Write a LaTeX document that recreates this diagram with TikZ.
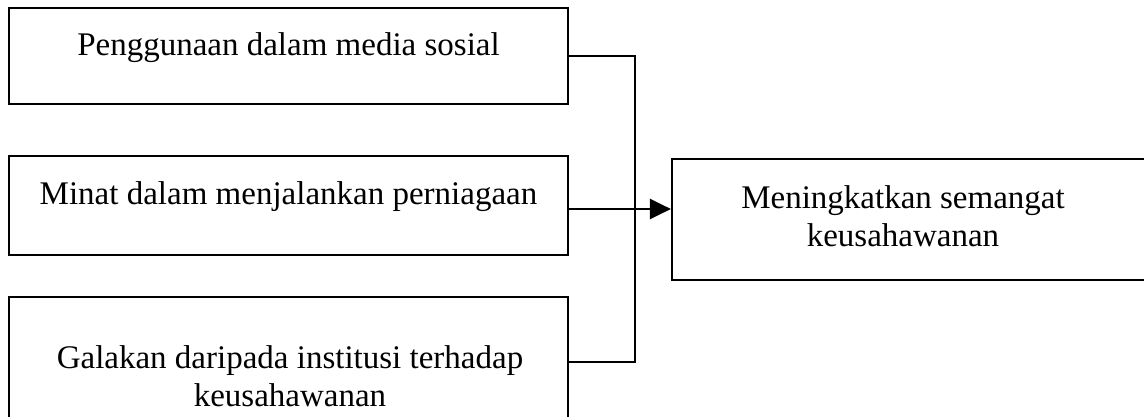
\documentclass[tikz,border=0pt]{standalone}
\usepackage{fontspec}
\setmainfont{Liberation Serif}
\usetikzlibrary{arrows.meta}
\begin{document}
\begin{tikzpicture}[x=1pt,y=-1pt,
  box/.style={draw=black,line width=2.2pt,rectangle,inner sep=0pt},
  txt/.style={font=\fontsize{33}{38}\selectfont,align=center,inner sep=0pt},
  conn/.style={draw=black,line width=2.4pt},
]
\useasboundingbox (0,0) rectangle (1144,416);
\clip (0,0) rectangle (1144,416);
\node[box,minimum width=559pt,minimum height=96pt] (b1) at (288.5,56) {};
\node[box,minimum width=559pt,minimum height=99pt] (b2) at (288.5,205.5) {};
\node[box,minimum width=559pt,minimum height=143pt] (b3) at (288.5,368.5) {};
\node[box,minimum width=508pt,minimum height=121pt] (r) at (926,219.5) {};
\node[txt] (t1) at (288.5,48) {Penggunaan dalam media sosial};
\node[txt] (t2) at (288.5,197) {Minat dalam menjalankan perniagaan};
\node[txt] (t3) at (290,376) {Galakan daripada institusi terhadap\\keusahawanan};
\node[txt] (t4) at (903,216) {Meningkatkan semangat\\keusahawanan};
\coordinate (j1) at (635,56);
\coordinate (j3) at (635,362);
\coordinate (ja) at (635,209);
\draw[conn] (b1.east) -- (j1) -- (j3) -- (b3.east |- j3);
\draw[conn,-{Triangle[length=21pt,width=20pt]}] (b2.east |- ja) -- (r.west |- ja);
\end{tikzpicture}
\end{document}
